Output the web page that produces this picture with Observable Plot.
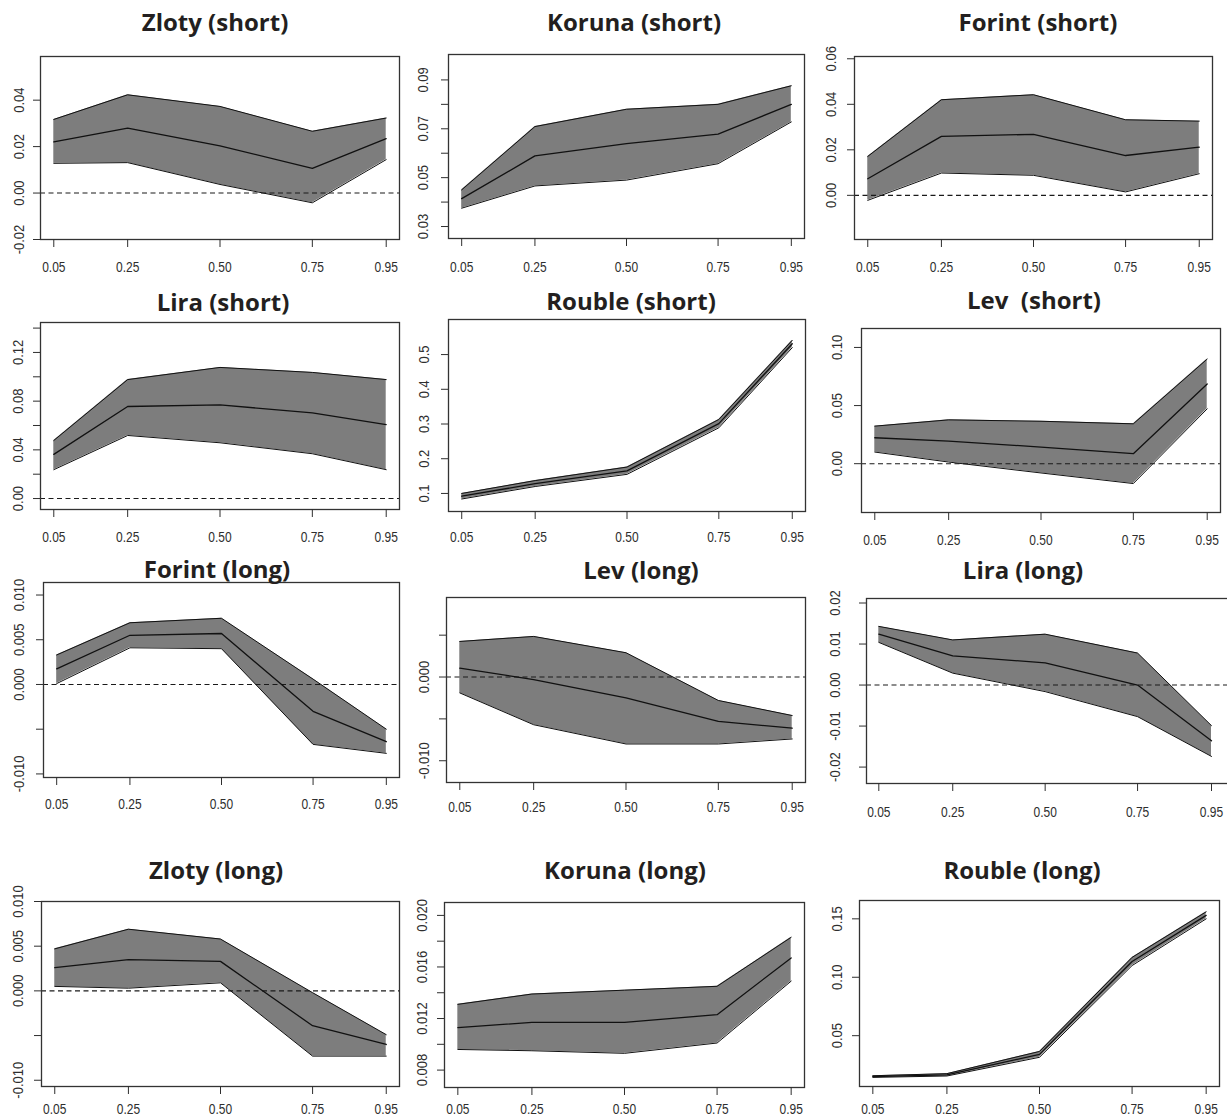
<!DOCTYPE html>
<html><head><meta charset="utf-8">
<script src="https://cdn.jsdelivr.net/npm/d3@7"></script>
<script src="https://cdn.jsdelivr.net/npm/@observablehq/plot@0.6"></script>
<style>
html,body{margin:0;padding:0;background:#fff;overflow:hidden;}
#page{position:relative;width:1227px;height:1119px;overflow:hidden;background:#fff;}
.title{position:absolute;font-family:"Open Sans",sans-serif;font-weight:700;font-size:24px;line-height:24px;color:#231f20;white-space:pre;transform:translateX(-50%);}
.panel{position:absolute;}
.panel svg{max-width:none !important;}
</style></head><body><div id="page"></div><script>
// ---- data ----
const quantiles = [0.05, 0.25, 0.50, 0.75, 0.95];
const xTickLabels = ["0.05", "0.25", "0.50", "0.75", "0.95"];

const zlotyShortLo  = [0.0128, 0.0131, 0.0037, -0.0042, 0.0144];
const zlotyShortMid = [0.0220, 0.0280, 0.0203, 0.0106, 0.0234];
const zlotyShortHi  = [0.0317, 0.0423, 0.0373, 0.0266, 0.0323];

const korunaShortLo  = [0.0375, 0.0466, 0.0490, 0.0557, 0.0728];
const korunaShortMid = [0.0414, 0.0589, 0.0639, 0.0678, 0.0800];
const korunaShortHi  = [0.0450, 0.0709, 0.0780, 0.0800, 0.0876];

const forintShortLo  = [-0.0022, 0.0098, 0.0088, 0.0015, 0.0095];
const forintShortMid = [0.0073, 0.0259, 0.0268, 0.0175, 0.0212];
const forintShortHi  = [0.0171, 0.0420, 0.0442, 0.0332, 0.0326];

const liraShortLo  = [0.0237, 0.0518, 0.0458, 0.0368, 0.0237];
const liraShortMid = [0.0363, 0.0756, 0.0769, 0.0704, 0.0608];
const liraShortHi  = [0.0477, 0.0977, 0.1077, 0.1036, 0.0977];

const roubleShortLo  = [0.084, 0.120, 0.155, 0.289, 0.520];
const roubleShortMid = [0.092, 0.128, 0.165, 0.301, 0.531];
const roubleShortHi  = [0.100, 0.137, 0.176, 0.313, 0.541];

const levShortLo  = [0.0100, 0.0014, -0.0080, -0.0171, 0.0472];
const levShortMid = [0.0223, 0.0194, 0.0143, 0.0086, 0.0686];
const levShortHi  = [0.0323, 0.0377, 0.0365, 0.0343, 0.0900];

const forintLongLo  = [0.0001, 0.0041, 0.0040, -0.0067, -0.0077];
const forintLongMid = [0.00175, 0.0055, 0.0057, -0.0030, -0.0064];
const forintLongHi  = [0.0033, 0.0069, 0.0074, 0.0006, -0.0050];

const levLongLo  = [-0.0019, -0.0057, -0.0080, -0.0080, -0.0074];
const levLongMid = [0.00107, -0.0003, -0.0025, -0.0053, -0.0061];
const levLongHi  = [0.00425, 0.00485, 0.0029, -0.0028, -0.0046];

const liraLongLo  = [0.0104, 0.0029, -0.0016, -0.0077, -0.0174];
const liraLongMid = [0.0124, 0.0071, 0.0054, 0.0000, -0.0136];
const liraLongHi  = [0.0143, 0.0110, 0.0124, 0.0078, -0.0099];

const zlotyLongLo  = [0.0005, 0.0003, 0.0009, -0.0073, -0.0073];
const zlotyLongMid = [0.0026, 0.0035, 0.0033, -0.0039, -0.0060];
const zlotyLongHi  = [0.0047, 0.0069, 0.0058, -0.0002, -0.0049];

const korunaLongLo  = [0.0096, 0.0095, 0.0093, 0.0101, 0.0149];
const korunaLongMid = [0.0113, 0.0117, 0.0117, 0.0123, 0.0167];
const korunaLongHi  = [0.0131, 0.0139, 0.0142, 0.0145, 0.0183];

const roubleLongLo  = [0.0143, 0.0155, 0.0315, 0.1100, 0.1500];
const roubleLongMid = [0.0150, 0.0165, 0.0340, 0.1135, 0.1530];
const roubleLongHi  = [0.0157, 0.0175, 0.0365, 0.1170, 0.1560];

// y tick values and their labels ("" = unlabeled tick)
const zlotyShortTicks = [-0.02, 0, 0.02, 0.04];
const zlotyShortTickLabels = ["-0.02", "0.00", "0.02", "0.04"];
const korunaShortTicks = [0.03, 0.04, 0.05, 0.06, 0.07, 0.08, 0.09];
const korunaShortTickLabels = ["0.03", "", "0.05", "", "0.07", "", "0.09"];
const forintShortTicks = [0, 0.02, 0.04, 0.06];
const forintShortTickLabels = ["0.00", "0.02", "0.04", "0.06"];
const liraShortTicks = [0, 0.02, 0.04, 0.06, 0.08, 0.10, 0.12, 0.14];
const liraShortTickLabels = ["0.00", "", "0.04", "", "0.08", "", "0.12", ""];
const roubleShortTicks = [0.1, 0.2, 0.3, 0.4, 0.5];
const roubleShortTickLabels = ["0.1", "0.2", "0.3", "0.4", "0.5"];
const levShortTicks = [0, 0.05, 0.10];
const levShortTickLabels = ["0.00", "0.05", "0.10"];
const forintLongTicks = [-0.01, -0.005, 0, 0.005, 0.01];
const forintLongTickLabels = ["-0.010", "", "0.000", "0.005", "0.010"];
const levLongTicks = [-0.01, -0.005, 0, 0.005];
const levLongTickLabels = ["-0.010", "", "0.000", ""];
const liraLongTicks = [-0.02, -0.01, 0, 0.01, 0.02];
const liraLongTickLabels = ["-0.02", "-0.01", "0.00", "0.01", "0.02"];
const zlotyLongTicks = [-0.01, -0.005, 0, 0.005, 0.01];
const zlotyLongTickLabels = ["-0.010", "", "0.000", "0.005", "0.010"];
const korunaLongTicks = [0.008, 0.010, 0.012, 0.014, 0.016, 0.018, 0.020];
const korunaLongTickLabels = ["0.008", "", "0.012", "", "0.016", "", "0.020"];
const roubleLongTicks = [0.05, 0.10, 0.15];
const roubleLongTickLabels = ["0.05", "0.10", "0.15"];

const titles = ["Zloty (short)", "Koruna (short)", "Forint (short)",
  "Lira (short)", "Rouble (short)", "Lev  (short)",
  "Forint (long)", "Lev (long)", "Lira (long)",
  "Zloty (long)", "Koruna (long)", "Rouble (long)"];

// ---- layout (page pixels) ----
const panels = [
  {title: titles[0], lo: zlotyShortLo, mid: zlotyShortMid, hi: zlotyShortHi, ticks: zlotyShortTicks, labels: zlotyShortTickLabels,
   yDomain: [-0.0200, 0.0588], box: [40, 56, 399, 239], tx: 215, tb: 31, xLabY: 267, yOff: 22},
  {title: titles[1], lo: korunaShortLo, mid: korunaShortMid, hi: korunaShortHi, ticks: korunaShortTicks, labels: korunaShortTickLabels,
   yDomain: [0.0251, 0.1004], box: [448, 54, 804, 238], tx: 634, tb: 31.5, xLabY: 266.7, yOff: 26},
  {title: titles[2], lo: forintShortLo, mid: forintShortMid, hi: forintShortHi, ticks: forintShortTicks, labels: forintShortTickLabels,
   yDomain: [-0.0194, 0.0610], box: [854, 56, 1212, 239], tx: 1038, tb: 31, xLabY: 266.7, yOff: 24},
  {title: titles[3], lo: liraShortLo, mid: liraShortMid, hi: liraShortHi, ticks: liraShortTicks, labels: liraShortTickLabels,
   yDomain: [-0.0090, 0.1446], box: [40, 322, 399, 509], tx: 223, tb: 311, xLabY: 536.7, yOff: 23},
  {title: titles[4], lo: roubleShortLo, mid: roubleShortMid, hi: roubleShortHi, ticks: roubleShortTicks, labels: roubleShortTickLabels,
   yDomain: [0.048, 0.601], box: [448, 319, 805, 511], tx: 631, tb: 310, xLabY: 536.7, yOff: 25},
  {title: titles[5], lo: levShortLo, mid: levShortMid, hi: levShortHi, ticks: levShortTicks, labels: levShortTickLabels,
   yDomain: [-0.0420, 0.1163], box: [861, 328, 1220, 512], tx: 1034, tb: 309.5, xLabY: 540, yOff: 25},
  {title: titles[6], lo: forintLongLo, mid: forintLongMid, hi: forintLongHi, ticks: forintLongTicks, labels: forintLongTickLabels,
   yDomain: [-0.0104, 0.0114], box: [43, 582, 399, 777], tx: 217, tb: 578.5, xLabY: 803.3, yOff: 25},
  {title: titles[7], lo: levLongLo, mid: levLongMid, hi: levLongHi, ticks: levLongTicks, labels: levLongTickLabels,
   yDomain: [-0.0126, 0.0095], box: [446, 597, 805, 782], tx: 641, tb: 579, xLabY: 806.7, yOff: 23},
  {title: titles[8], lo: liraLongLo, mid: liraLongMid, hi: liraLongHi, ticks: liraLongTicks, labels: liraLongTickLabels,
   yDomain: [-0.0240, 0.0211], box: [866, 598, 1232, 783], xDomain: [0.0167, 1.0068], tx: 1023, tb: 579.3, xLabY: 811.7, yOff: 32},
  {title: titles[9], lo: zlotyLongLo, mid: zlotyLongMid, hi: zlotyLongHi, ticks: zlotyLongTicks, labels: zlotyLongTickLabels,
   yDomain: [-0.0107, 0.0100], box: [41, 901, 399, 1086], tx: 216, tb: 879.3, xLabY: 1108.5, yOff: 24},
  {title: titles[10], lo: korunaLongLo, mid: korunaLongMid, hi: korunaLongHi, ticks: korunaLongTicks, labels: korunaLongTickLabels,
   yDomain: [0.00665, 0.0210], box: [444, 902, 804, 1087], tx: 625, tb: 879.3, xLabY: 1108.5, yOff: 23},
  {title: titles[11], lo: roubleLongLo, mid: roubleLongMid, hi: roubleLongHi, ticks: roubleLongTicks, labels: roubleLongTickLabels,
   yDomain: [0.0065, 0.1657], box: [859, 900, 1219, 1086], tx: 1022, tb: 879.3, xLabY: 1108.5, yOff: 23}
];

const page = document.getElementById("page");
const ML = 50, MT = 6, MR = 6, MB = 42;
const TICK_X = 8, TICK_Y = 7, STRETCH = 1.18;
const FS_X = 12, FS_Y = 13;
const xLabMap = new Map(quantiles.map((q, i) => [q, xTickLabels[i]]));

panels.forEach(p => {
  const [l, t, r, b] = p.box;
  const rows = quantiles.map((q, i) => ({q, lo: p.lo[i], mid: p.mid[i], hi: p.hi[i]}));
  const labMap = new Map(p.ticks.map((v, i) => [v, p.labels[i]]));
  const halfX = 0.716 * FS_X * STRETCH / 2, halfY = 0.716 * FS_Y * STRETCH / 2;
  const marks = [
    Plot.areaY(rows, {x: "q", y1: "lo", y2: "hi", fill: "#7d7d7d", curve: "linear"}),
  ];
  if (p.yDomain[0] < 0 && p.yDomain[1] > 0) {
    marks.push(Plot.ruleY([0], {stroke: "#1a1a1a", strokeWidth: 1.1, strokeDasharray: "5,3.5"}));
  }
  marks.push(
    Plot.line(rows, {x: "q", y: "hi", stroke: "#111", strokeWidth: 1}),
    Plot.line(rows, {x: "q", y: "lo", stroke: "#111", strokeWidth: 1}),
    Plot.line(rows, {x: "q", y: "mid", stroke: "#111", strokeWidth: 1.3}),
    Plot.frame({stroke: "#333", strokeWidth: 1.3}),
    Plot.axisX({ticks: quantiles, tickFormat: d => xLabMap.get(d), tickSize: TICK_X, fontSize: FS_X,
      tickPadding: p.xLabY - b - halfX - TICK_X, label: null}),
    Plot.axisY({ticks: p.ticks, tickFormat: d => labMap.get(d) ?? "", tickSize: TICK_Y, fontSize: FS_Y,
      tickPadding: p.yOff - halfY - TICK_Y, tickRotate: -90, textAnchor: "middle", lineAnchor: "bottom", label: null})
  );
  const W = r - l + ML + MR, H = b - t + MT + MB;
  const svg = Plot.plot({
    width: W, height: H,
    marginLeft: ML, marginTop: MT, marginRight: MR, marginBottom: MB,
    x: {domain: p.xDomain || [0.014, 0.986], label: null},
    y: {domain: p.yDomain, label: null},
    style: {fontFamily: '"Liberation Sans", Arial, sans-serif', fontSize: "12px", color: "#2e2e2e",
      background: "transparent", overflow: "visible", maxWidth: "none"},
    marks
  });
  // tall glyphs, as in the scanned original
  svg.querySelectorAll('g[aria-label$="tick label"] text').forEach(tx => {
    const tr = tx.getAttribute("transform") || "";
    const x = tx.getAttribute("x"), y = tx.getAttribute("y");
    let ox = 0, oy = 0;
    if (x && !x.endsWith("em")) { ox = +x; tx.removeAttribute("x"); }
    if (y && !y.endsWith("em")) { oy = +y; tx.removeAttribute("y"); }
    tx.setAttribute("transform", `${tr} translate(${ox},${oy}) scale(1,${STRETCH})`);
  });
  const wrap = document.createElement("div");
  wrap.className = "panel";
  wrap.style.left = (l - ML) + "px";
  wrap.style.top = (t - MT) + "px";
  wrap.style.width = W + "px";
  wrap.style.height = H + "px";
  wrap.appendChild(svg);
  page.appendChild(wrap);

  const title = document.createElement("div");
  title.className = "title";
  title.textContent = p.title;
  title.style.left = p.tx + "px";
  title.style.top = (p.tb - 21.3) + "px";
  page.appendChild(title);
});
</script></body></html>
